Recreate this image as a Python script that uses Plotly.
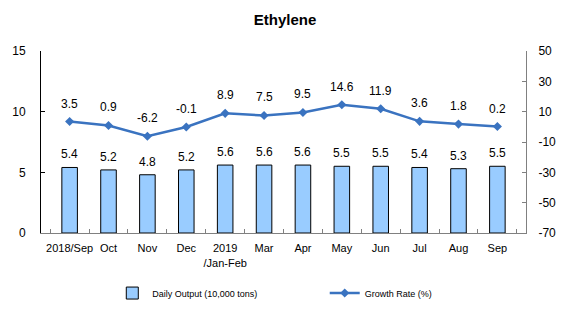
import plotly.graph_objects as go

categories = ["2018/Sep", "Oct", "Nov", "Dec", "2019<br>/Jan-Feb", "Mar", "Apr", "May", "Jun", "Jul", "Aug", "Sep"]
daily_output = [5.4, 5.2, 4.8, 5.2, 5.6, 5.6, 5.6, 5.5, 5.5, 5.4, 5.3, 5.5]
growth_rate = [3.5, 0.9, -6.2, -0.1, 8.9, 7.5, 9.5, 14.6, 11.9, 3.6, 1.8, 0.2]
left_ticks = [0, 5, 10, 15]
right_ticks = [-70, -50, -30, -10, 10, 30, 50]

FONT = "Liberation Sans, Arial, sans-serif"
LINE_COLOR = "#3A73C0"

fig = go.Figure()
fig.add_trace(go.Bar(
    x=categories, y=daily_output, name="Daily Output (10,000 tons)",
    marker=dict(color="#99CCFF", line=dict(color="black", width=1)),
    width=0.4, yaxis="y", legend="legend",
))
fig.add_trace(go.Scatter(
    x=categories, y=growth_rate, name="Growth Rate (%)", yaxis="y2",
    mode="lines+markers",
    line=dict(color=LINE_COLOR, width=2.5),
    marker=dict(symbol="diamond", size=7, color=LINE_COLOR),
    legend="legend2",
))

annotations = []
for c, v in zip(categories, daily_output):
    annotations.append(dict(x=c, y=v, xref="x", yref="y", text=f"{v:.1f}",
                            showarrow=False, yshift=13,
                            font=dict(family=FONT, size=12, color="black")))
for c, v in zip(categories, growth_rate):
    annotations.append(dict(x=c, y=v, xref="x", yref="y2", text=f"{v:.1f}",
                            showarrow=False, yshift=18,
                            font=dict(family=FONT, size=12, color="black")))

legend_style = dict(orientation="h", yanchor="middle", xanchor="left", y=-0.33,
                    font=dict(family=FONT, size=9), bgcolor="rgba(0,0,0,0)")

fig.update_layout(
    width=570, height=332,
    margin=dict(l=41, r=44, t=51, b=99, autoexpand=False),
    paper_bgcolor="white", plot_bgcolor="white",
    font=dict(family=FONT, size=11, color="black"),
    title=dict(text="<b>Ethylene</b>", x=0.5, xanchor="center", y=0.94, yanchor="middle",
               font=dict(family=FONT, size=15, color="black")),
    xaxis=dict(showline=True, linecolor="#808080", linewidth=1, tickangle=0,
               ticks="inside", tickson="boundaries", ticklen=4, tickcolor="#808080",
               ticklabelstandoff=5, automargin=False,
               tickfont=dict(family=FONT, size=11), showgrid=False),
    yaxis=dict(range=[0, 15], tickvals=left_ticks, showline=True, linecolor="black",
               ticks="inside", ticklen=4, tickcolor="black", showgrid=False, zeroline=False,
               ticklabelstandoff=12,
               automargin=False, tickfont=dict(family=FONT, size=12)),
    yaxis2=dict(range=[-70, 50], tickvals=right_ticks, ticktext=[str(t) for t in right_ticks],
                overlaying="y", automargin=False, ticklabelstandoff=9,
                side="right", showline=True, linecolor="#808080", ticks="inside", ticklen=4,
                tickcolor="#808080", showgrid=False, zeroline=False,
                tickfont=dict(family=FONT, size=12)),
    legend=dict(x=0.147, **legend_style),
    legend2=dict(x=0.585, **legend_style),
    annotations=annotations,
    showlegend=True,
    bargap=0.6,
)

fig.write_html("out.html")
